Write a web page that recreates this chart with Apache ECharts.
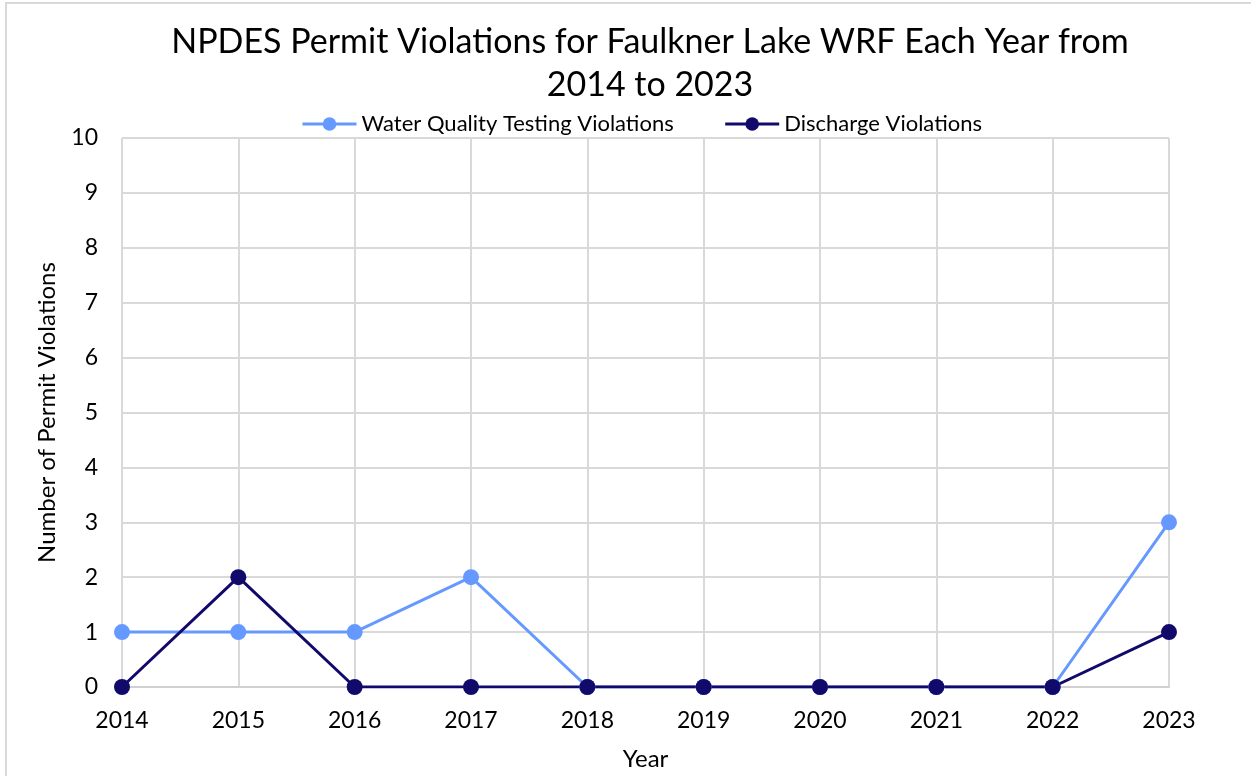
<!DOCTYPE html>
<html>
<head>
<meta charset="utf-8">
<script src="https://cdn.jsdelivr.net/npm/echarts@6/dist/echarts.min.js"></script>
<style>
  html, body { margin: 0; padding: 0; background: #fff; }
  #chart { width: 1251px; height: 776px; }
</style>
</head>
<body>
<div id="chart"></div>
<script>
  // years and violation counts
  const years = ['2014', '2015', '2016', '2017', '2018', '2019', '2020', '2021', '2022', '2023'];
  const waterQuality = [1, 1, 1, 2, 0, 0, 0, 0, 0, 3];
  const discharge = [0, 2, 0, 0, 0, 0, 0, 0, 0, 1];

  const font = 'Lato, "Open Sans", sans-serif';
  const chart = echarts.init(document.getElementById('chart'));

  chart.setOption({
    animation: false,
    textStyle: { fontFamily: font },
    graphic: [{
      type: 'rect',
      shape: { x: 6, y: 3, width: 1260, height: 790 },
      style: { fill: 'none', stroke: '#d9d9d9', lineWidth: 2 },
      silent: true
    }],
    title: {
      text: 'NPDES Permit Violations for Faulkner Lake WRF Each Year from\n2014 to 2023',
      left: 645,
      textAlign: 'center',
      top: 16,
      textStyle: { fontSize: 34, fontWeight: 'normal', color: '#000', lineHeight: 43, fontFamily: font }
    },
    legend: {
      top: 108,
      left: 296,
      itemWidth: 54,
      itemHeight: 17,
      itemGap: 50,
      lineStyle: { width: 3 },
      textStyle: { fontSize: 22, color: '#000', fontFamily: font },
      data: ['Water Quality Testing Violations', 'Discharge Violations']
    },
    grid: { left: 122, right: 82, top: 138, bottom: 86 },
    xAxis: {
      type: 'category',
      data: years,
      boundaryGap: false,
      name: 'Year',
      nameLocation: 'middle',
      nameGap: 72,
      nameTextStyle: { fontSize: 24, color: '#000', verticalAlign: 'middle' },
      axisLine: { lineStyle: { color: '#d0d0d0', width: 2 } },
      axisTick: { show: false },
      axisLabel: { fontSize: 23, color: '#000', margin: 22 },
      splitLine: { show: true, lineStyle: { color: '#d9d9d9', width: 2 } }
    },
    yAxis: {
      type: 'value',
      min: 0,
      max: 10,
      interval: 1,
      name: 'Number of Permit Violations',
      nameLocation: 'middle',
      nameGap: 75,
      nameTextStyle: { fontSize: 24, color: '#000', verticalAlign: 'middle' },
      axisLine: { show: false },
      axisTick: { show: false },
      axisLabel: { fontSize: 23, color: '#000', margin: 24 },
      splitLine: { lineStyle: { color: '#d9d9d9', width: 2 } }
    },
    series: [
      {
        name: 'Water Quality Testing Violations',
        type: 'line',
        data: waterQuality,
        symbol: 'circle',
        symbolSize: 16,
        lineStyle: { width: 3, color: '#6699ff' },
        itemStyle: { color: '#6699ff' }
      },
      {
        name: 'Discharge Violations',
        type: 'line',
        data: discharge,
        symbol: 'circle',
        symbolSize: 16,
        lineStyle: { width: 3, color: '#120a6b' },
        itemStyle: { color: '#120a6b' }
      }
    ]
  });
</script>
</body>
</html>
